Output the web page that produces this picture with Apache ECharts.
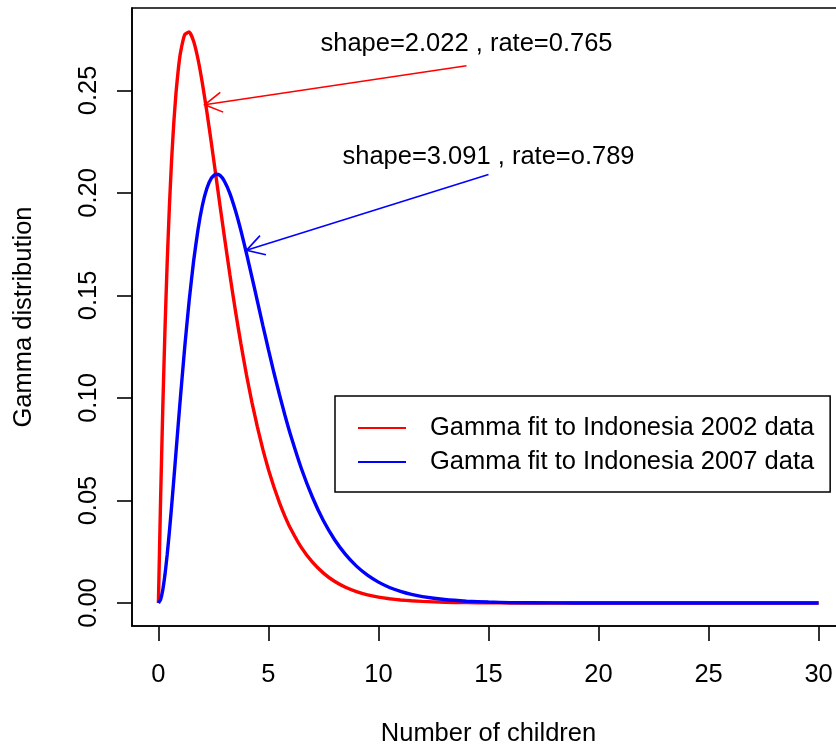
<!DOCTYPE html>
<html>
<head>
<meta charset="utf-8">
<script src="https://cdn.jsdelivr.net/npm/echarts@6/dist/echarts.min.js"></script>
<style>
  html, body { margin: 0; padding: 0; background: #ffffff; }
  #chart { width: 836px; height: 752px; }
</style>
</head>
<body>
<div id="chart"></div>
<script>
// Number of children (x) and the two fitted gamma densities
const childCount = [0, 0.1, 0.2, 0.3, 0.4, 0.5, 0.6, 0.7, 0.8, 0.9, 1, 1.2, 1.4, 1.6, 1.8, 2, 2.2, 2.4, 2.6, 2.8, 3,
  3.25, 3.5, 3.75, 4, 4.25, 4.5, 4.75, 5, 5.25, 5.5, 5.75, 6, 6.5, 7, 7.5, 8, 8.5, 9, 9.5, 10, 10.5, 11, 11.5, 12,
  13, 14, 15, 16, 18, 20, 25, 30];
const fit2002 = [0, 0.0508, 0.0955, 0.1339, 0.1664, 0.1936, 0.2161, 0.2343, 0.2488, 0.2599, 0.2682,
  0.2773, 0.2785, 0.2740, 0.2652, 0.2534, 0.2397, 0.2248, 0.2094, 0.1938, 0.1785,
  0.1600, 0.1425, 0.1264, 0.1114, 0.0979, 0.0858, 0.0748, 0.0651, 0.0566, 0.0490, 0.0423, 0.0365,
  0.0270, 0.0199, 0.0146, 0.0106, 0.0077, 0.0056, 0.0040, 0.0029, 0.0021, 0.0015, 0.0011, 0.0008,
  0.0004, 0.0002, 0.0001, 0.00005, 0.00001, 0, 0, 0];
const fit2007 = [0, 0.0017, 0.0065, 0.0140, 0.0237, 0.0349, 0.0472, 0.0602, 0.0736, 0.0870, 0.1002,
  0.1253, 0.1477, 0.1668, 0.1822, 0.1940, 0.2022, 0.2071, 0.2091, 0.2086, 0.2057,
  0.1997, 0.1914, 0.1816, 0.1706, 0.1590, 0.1471, 0.1352, 0.1236, 0.1123, 0.1017, 0.0916, 0.0822,
  0.0655, 0.0516, 0.0401, 0.0310, 0.0237, 0.0180, 0.0136, 0.0102, 0.0076, 0.0057, 0.0042, 0.0031,
  0.0017, 0.0009, 0.0005, 0.0002, 0.00006, 0.00002, 0, 0];

const seriesNames = ['Gamma fit to Indonesia 2002 data', 'Gamma fit to Indonesia 2007 data'];
const xTicks = [0, 5, 10, 15, 20, 25, 30];
const yTicks = [0, 0.05, 0.10, 0.15, 0.20, 0.25];

// Annotations: fitted parameters and the arrows pointing at each curve
const noteTexts = ['shape=2.022 , rate=0.765', 'shape=3.091 , rate=o.789'];
const notePoints = [[14, 0.2725], [15, 0.2175]];
const arrowStarts = [[14, 0.262], [15, 0.209]];
const arrowEnds = [[2.1, 0.243], [4.0, 0.172]];

const lineColors = ['#ff0000', '#0000ff'];
const FONT = '"Liberation Sans", Arial, Helvetica, sans-serif';
const FONT_SIZE = 25.5;

const chart = echarts.init(document.getElementById('chart'), null, { renderer: 'canvas' });

const curveSeries = [fit2002, fit2007].map((vals, i) => ({
  name: seriesNames[i],
  type: 'line',
  data: childCount.map((x, j) => [x, vals[j]]),
  showSymbol: false,
  smooth: 0.15,
  lineStyle: { color: lineColors[i], width: 3.4 },
  itemStyle: { color: lineColors[i] },
  z: 3,
  silent: true
}));

const option = {
  backgroundColor: '#ffffff',
  animation: false,
  textStyle: { fontFamily: FONT },
  grid: {
    left: 132, top: 8, width: 713, height: 618,
    show: true, borderColor: '#000000', borderWidth: 1.6, backgroundColor: 'transparent',
    containLabel: false, outerBoundsMode: 'none'
  },
  xAxis: {
    type: 'value', min: -1.2, max: 31.2,
    splitLine: { show: false },
    axisLine: { show: true, onZero: false, lineStyle: { color: '#000', width: 1.6 } },
    axisTick: { show: true, customValues: xTicks, length: 15, lineStyle: { color: '#000', width: 1.6 } },
    axisLabel: {
      customValues: xTicks, margin: 36, color: '#000', fontSize: FONT_SIZE, fontFamily: FONT,
      formatter: v => String(v)
    },
    name: 'Number of children', nameLocation: 'middle', nameGap: 95,
    nameTextStyle: { color: '#000', fontSize: FONT_SIZE, fontFamily: FONT }
  },
  yAxis: {
    type: 'value', min: -0.0112, max: 0.2902,
    splitLine: { show: false },
    axisLine: { show: true, onZero: false, lineStyle: { color: '#000', width: 1.6 } },
    axisTick: { show: true, customValues: yTicks, length: 15, lineStyle: { color: '#000', width: 1.6 } },
    axisLabel: {
      customValues: yTicks, rotate: 90, margin: 30, color: '#000', fontSize: FONT_SIZE, fontFamily: FONT,
      formatter: v => v.toFixed(2)
    },
    name: 'Gamma distribution', nameLocation: 'middle', nameGap: 95,
    nameTextStyle: { color: '#000', fontSize: FONT_SIZE, fontFamily: FONT }
  },
  legend: {
    data: seriesNames,
    orient: 'vertical',
    left: 335, top: 396,
    backgroundColor: '#ffffff',
    borderColor: '#000000', borderWidth: 1.5, borderRadius: 0,
    padding: [19, 16, 17, 23],
    icon: 'rect', itemWidth: 48, itemHeight: 2, itemGap: 8,
    textStyle: { color: '#000', fontSize: FONT_SIZE, lineHeight: 25, fontFamily: FONT, padding: [0, 0, 0, 19] },
    selectedMode: false
  },
  series: [
    ...curveSeries,
    {
      name: 'arrows',
      type: 'custom',
      coordinateSystem: 'cartesian2d',
      silent: true,
      z: 4,
      data: arrowStarts.map((s, i) => [s[0], s[1], arrowEnds[i][0], arrowEnds[i][1]]),
      encode: { x: [0, 2], y: [1, 3] },
      renderItem: (params, api) => {
        const p0 = api.coord([api.value(0), api.value(1)]);
        const p1 = api.coord([api.value(2), api.value(3)]);
        const ang = Math.atan2(p0[1] - p1[1], p0[0] - p1[0]);
        const len = 20, spread = Math.PI / 6;
        const h1 = [p1[0] + len * Math.cos(ang + spread), p1[1] + len * Math.sin(ang + spread)];
        const h2 = [p1[0] + len * Math.cos(ang - spread), p1[1] + len * Math.sin(ang - spread)];
        const color = lineColors[params.dataIndex];
        return {
          type: 'group',
          children: [
            { type: 'line', shape: { x1: p0[0], y1: p0[1], x2: p1[0], y2: p1[1] },
              style: { stroke: color, lineWidth: 1.6 } },
            { type: 'polyline', shape: { points: [h1, p1, h2] },
              style: { stroke: color, fill: null, lineWidth: 1.6 } }
          ]
        };
      }
    },
    {
      name: 'notes',
      type: 'custom',
      coordinateSystem: 'cartesian2d',
      silent: true,
      z: 5,
      data: notePoints,
      renderItem: (params, api) => {
        const p = api.coord([api.value(0), api.value(1)]);
        return {
          type: 'text',
          x: p[0], y: p[1],
          style: {
            text: noteTexts[params.dataIndex],
            fill: '#000', fontSize: FONT_SIZE, fontFamily: FONT,
            align: 'center', verticalAlign: 'middle'
          }
        };
      }
    }
  ]
};

chart.setOption(option);
</script>
</body>
</html>
